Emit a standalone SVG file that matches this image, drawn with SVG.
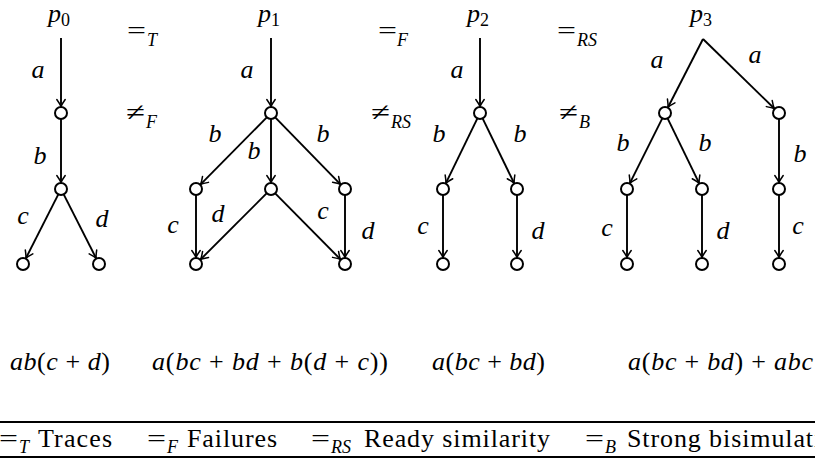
<svg xmlns="http://www.w3.org/2000/svg" width="815" height="460" viewBox="0 0 815 460" font-family="'Liberation Serif','DejaVu Serif','Noto Serif','Times New Roman',serif">
<defs>
<marker id="arr" markerUnits="userSpaceOnUse" markerWidth="14" markerHeight="12" viewBox="-8 -6 10 12" refX="0" refY="0" orient="auto">
<path d="M-7,-4.2 Q-2.5,-1 0,0 Q-2.5,1 -7,4.2" fill="none" stroke="#000" stroke-width="1.5" stroke-linecap="round"/>
</marker>
</defs>
<style>
.n{fill:#fff;stroke:#000;stroke-width:2}
.e{stroke:#000;stroke-width:1.9;fill:none;marker-end:url(#arr)}
text{font-family:'Liberation Serif','DejaVu Serif','Noto Serif','Times New Roman',serif;fill:#000}
.m{font-style:italic;font-size:26px}
.u{font-style:normal}
.sub{font-size:18px;font-style:italic}
.lab{font-style:italic;font-size:26px;text-anchor:middle}
.t{font-size:26px}
.rule{stroke:#000;stroke-width:2}
</style>
<rect width="815" height="460" fill="#fff"/>

<g id="connectors">
<line class="e" x1="61" y1="38" x2="61" y2="106.5"/>
<line class="e" x1="61" y1="119" x2="61" y2="182.5"/>
<line class="e" x1="58.3" y1="194.4" x2="25.9" y2="258.2"/>
<line class="e" x1="63.7" y1="194.4" x2="96.1" y2="258.2"/>

<line class="e" x1="271" y1="38" x2="271" y2="106.5"/>
<line class="e" x1="266.8" y1="117.3" x2="200.6" y2="184.4"/>
<line class="e" x1="271" y1="119" x2="271" y2="182.5"/>
<line class="e" x1="275.2" y1="117.3" x2="340.5" y2="184.4"/>
<line class="e" x1="196" y1="195" x2="196" y2="257.5"/>
<line class="e" x1="266.8" y1="193.2" x2="200.6" y2="259.4"/>
<line class="e" x1="275.2" y1="193.3" x2="340.5" y2="259.4"/>
<line class="e" x1="345" y1="195" x2="345" y2="257.5"/>

<line class="e" x1="480" y1="38" x2="480" y2="106.5"/>
<line class="e" x1="477.4" y1="118.4" x2="445.9" y2="183.2"/>
<line class="e" x1="482.6" y1="118.4" x2="514.1" y2="183.2"/>
<line class="e" x1="443" y1="195" x2="443" y2="257.5"/>
<line class="e" x1="517" y1="195" x2="517" y2="257.5"/>

<line class="e" x1="703" y1="39" x2="668" y2="107.2"/>
<line class="e" x1="703" y1="39" x2="774.3" y2="108.5"/>
<line class="e" x1="662.3" y1="118.4" x2="629.9" y2="183.2"/>
<line class="e" x1="667.6" y1="118.4" x2="699.1" y2="183.2"/>
<line class="e" x1="779" y1="119" x2="779" y2="182.5"/>
<line class="e" x1="627" y1="195" x2="627" y2="257.5"/>
<line class="e" x1="702" y1="195" x2="702" y2="257.5"/>
<line class="e" x1="779" y1="195" x2="779" y2="257.5"/>
</g>

<g id="edge-labels">
<text class="lab" x="38" y="78">a</text>
<text class="lab" x="40" y="164">b</text>
<text class="lab" x="23" y="224">c</text>
<text class="lab" x="102" y="227">d</text>

<text class="lab" x="247" y="78">a</text>
<text class="lab" x="215" y="142">b</text>
<text class="lab" x="254" y="159">b</text>
<text class="lab" x="323" y="142">b</text>
<text class="lab" x="173" y="233">c</text>
<text class="lab" x="218" y="222">d</text>
<text class="lab" x="323" y="219">c</text>
<text class="lab" x="368" y="239">d</text>

<text class="lab" x="457" y="78">a</text>
<text class="lab" x="439" y="142">b</text>
<text class="lab" x="520" y="142">b</text>
<text class="lab" x="423" y="234">c</text>
<text class="lab" x="538" y="239">d</text>

<text class="lab" x="657" y="68">a</text>
<text class="lab" x="755" y="63">a</text>
<text class="lab" x="623" y="151">b</text>
<text class="lab" x="705" y="151">b</text>
<text class="lab" x="800" y="162">b</text>
<text class="lab" x="607" y="236">c</text>
<text class="lab" x="723" y="239">d</text>
<text class="lab" x="798" y="234">c</text>
</g>

<g id="p0"><text class="m" x="48" y="22">p<tspan class="u" style="font-size:18px" dy="4">0</tspan></text></g>
<g id="p0-n1"><circle class="n" cx="61" cy="113" r="6"/></g>
<g id="p0-n2"><circle class="n" cx="61" cy="189" r="6"/></g>
<g id="p0-n3"><circle class="n" cx="23" cy="264" r="6"/></g>
<g id="p0-n4"><circle class="n" cx="99" cy="264" r="6"/></g>

<g id="p1"><text class="m" x="258" y="22">p<tspan class="u" style="font-size:18px" dy="4">1</tspan></text></g>
<g id="p1-n1"><circle class="n" cx="271" cy="113" r="6"/></g>
<g id="p1-n2"><circle class="n" cx="196" cy="189" r="6"/></g>
<g id="p1-n3"><circle class="n" cx="271" cy="189" r="6"/></g>
<g id="p1-n4"><circle class="n" cx="345" cy="189" r="6"/></g>
<g id="p1-n5"><circle class="n" cx="196" cy="264" r="6"/></g>
<g id="p1-n6"><circle class="n" cx="345" cy="264" r="6"/></g>

<g id="p2"><text class="m" x="467" y="22">p<tspan class="u" style="font-size:18px" dy="4">2</tspan></text></g>
<g id="p2-n1"><circle class="n" cx="480" cy="113" r="6"/></g>
<g id="p2-n2"><circle class="n" cx="443" cy="189" r="6"/></g>
<g id="p2-n3"><circle class="n" cx="517" cy="189" r="6"/></g>
<g id="p2-n4"><circle class="n" cx="443" cy="264" r="6"/></g>
<g id="p2-n5"><circle class="n" cx="517" cy="264" r="6"/></g>

<g id="p3"><text class="m" x="690" y="22">p<tspan class="u" style="font-size:18px" dy="4">3</tspan></text></g>
<g id="p3-n1"><circle class="n" cx="665" cy="113" r="6"/></g>
<g id="p3-n2"><circle class="n" cx="779" cy="113" r="6"/></g>
<g id="p3-n3"><circle class="n" cx="627" cy="189" r="6"/></g>
<g id="p3-n4"><circle class="n" cx="702" cy="189" r="6"/></g>
<g id="p3-n5"><circle class="n" cx="779" cy="189" r="6"/></g>
<g id="p3-n6"><circle class="n" cx="627" cy="264" r="6"/></g>
<g id="p3-n7"><circle class="n" cx="702" cy="264" r="6"/></g>
<g id="p3-n8"><circle class="n" cx="779" cy="264" r="6"/></g>

<g id="relations">
<text class="t" x="127" y="39" textLength="19" lengthAdjust="spacingAndGlyphs">=</text><text class="sub" x="147" y="46">T</text>
<text class="t" x="126" y="121" textLength="19" lengthAdjust="spacingAndGlyphs">≠</text><text class="sub" x="146" y="128">F</text>
<text class="t" x="378" y="39" textLength="19" lengthAdjust="spacingAndGlyphs">=</text><text class="sub" x="397" y="46">F</text>
<text class="t" x="371" y="121" textLength="19" lengthAdjust="spacingAndGlyphs">≠</text><text class="sub" x="391" y="128">RS</text>
<text class="t" x="557" y="39" textLength="19" lengthAdjust="spacingAndGlyphs">=</text><text class="sub" x="577" y="46">RS</text>
<text class="t" x="559" y="121" textLength="19" lengthAdjust="spacingAndGlyphs">≠</text><text class="sub" x="579" y="128">B</text>
</g>

<g id="expressions">
<text class="m" x="10" y="370" textLength="100">ab<tspan class="u">(</tspan>c <tspan class="u">+</tspan> d<tspan class="u">)</tspan></text>
<text class="m" x="152" y="370" textLength="236">a<tspan class="u">(</tspan>bc <tspan class="u">+</tspan> bd <tspan class="u">+</tspan> b<tspan class="u">(</tspan>d <tspan class="u">+</tspan> c<tspan class="u">))</tspan></text>
<text class="m" x="432" y="370" textLength="113">a<tspan class="u">(</tspan>bc <tspan class="u">+</tspan> bd<tspan class="u">)</tspan></text>
<text class="m" x="628" y="370" textLength="185">a<tspan class="u">(</tspan>bc <tspan class="u">+</tspan> bd<tspan class="u">)</tspan> <tspan class="u">+</tspan> abc</text>
</g>

<g id="legend">
<line class="rule" x1="0" y1="422" x2="815" y2="422"/>
<line class="rule" x1="0" y1="457" x2="815" y2="457"/>
<text class="t" x="-1" y="447" textLength="19" lengthAdjust="spacingAndGlyphs">=</text><text class="sub" x="19" y="453">T</text>
<text class="t" x="38" y="447" textLength="74">Traces</text>
<text class="t" x="147" y="447" textLength="19" lengthAdjust="spacingAndGlyphs">=</text><text class="sub" x="167" y="453">F</text>
<text class="t" x="187" y="447" textLength="90">Failures</text>
<text class="t" x="311" y="447" textLength="19" lengthAdjust="spacingAndGlyphs">=</text><text class="sub" x="331" y="453">RS</text>
<text class="t" x="364" y="447" textLength="186">Ready similarity</text>
<text class="t" x="585" y="447" textLength="19" lengthAdjust="spacingAndGlyphs">=</text><text class="sub" x="605" y="453">B</text>
<text class="t" x="627" y="447" textLength="222">Strong bisimulation</text>
</g>
</svg>
